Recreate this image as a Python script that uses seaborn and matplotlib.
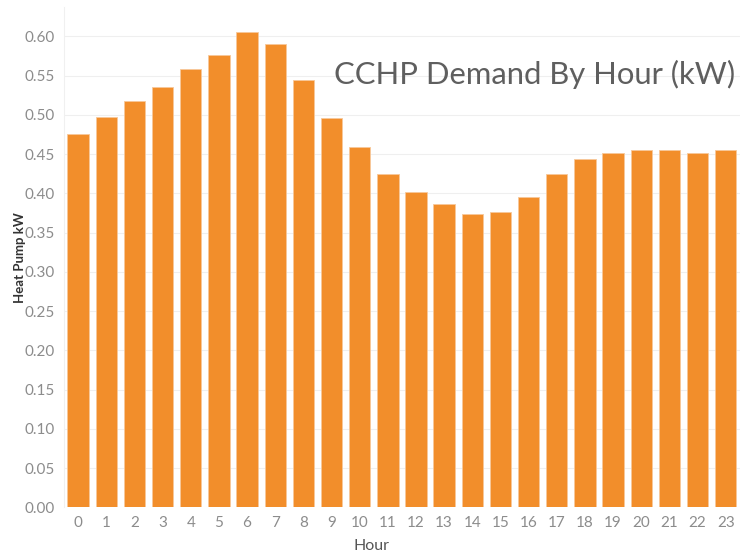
import matplotlib
matplotlib.use("Agg")
import matplotlib.pyplot as plt
import seaborn as sns
import pandas as pd

# values
hours = list(range(24))
heat_pump_kw = [0.476, 0.497, 0.518, 0.536, 0.558, 0.577, 0.606, 0.590,
                0.545, 0.496, 0.459, 0.425, 0.402, 0.387, 0.374, 0.377,
                0.395, 0.425, 0.444, 0.452, 0.456, 0.456, 0.452, 0.455]
y_ticks = [0.00, 0.05, 0.10, 0.15, 0.20, 0.25, 0.30, 0.35, 0.40, 0.45, 0.50, 0.55, 0.60]

df = pd.DataFrame({"Hour": hours, "kW": heat_pump_kw})

sns.set_style("white")
plt.rcParams["font.family"] = ["Lato", "DejaVu Sans"]

fig = plt.figure(figsize=(7.41, 5.55), dpi=100)
ax = fig.add_axes([0.0864, 0.0856, 0.912, 0.901])

sns.barplot(data=df, x="Hour", y="kW", color="#F28E2B", saturation=1,
            width=0.76, edgecolor="#f7c89a", linewidth=0.6, ax=ax)

ax.set_ylim(0, 0.637)
ax.set_xlim(-0.5, 23.5)
ax.set_yticks(y_ticks)
ax.set_yticklabels([f"{v:.2f}" for v in y_ticks])
ax.yaxis.grid(True, color="#efefef", linewidth=0.8)
ax.set_axisbelow(True)

for s in ["top", "right", "bottom"]:
    ax.spines[s].set_visible(False)
ax.spines["left"].set_color("#f0f0f0")
ax.spines["left"].set_linewidth(0.8)

ax.tick_params(axis="both", colors="#8c8c8c", labelsize=11, length=0, pad=6)
ax.tick_params(axis="y", pad=7)

ax.set_ylabel("Heat Pump kW", fontsize=9.5, color="#333333", fontweight="bold")
ax.yaxis.set_label_coords(-0.056, 0.5)
ax.set_xlabel("Hour", fontsize=11.5, color="#555555")
ax.xaxis.set_label_coords(0.455, -0.064)

ax.text(0.993, 0.865, "CCHP Demand By Hour (kW)", transform=ax.transAxes,
        ha="right", va="center", fontsize=22.3, color="#5f5f5f")

fig.savefig("out.png", dpi=100)
